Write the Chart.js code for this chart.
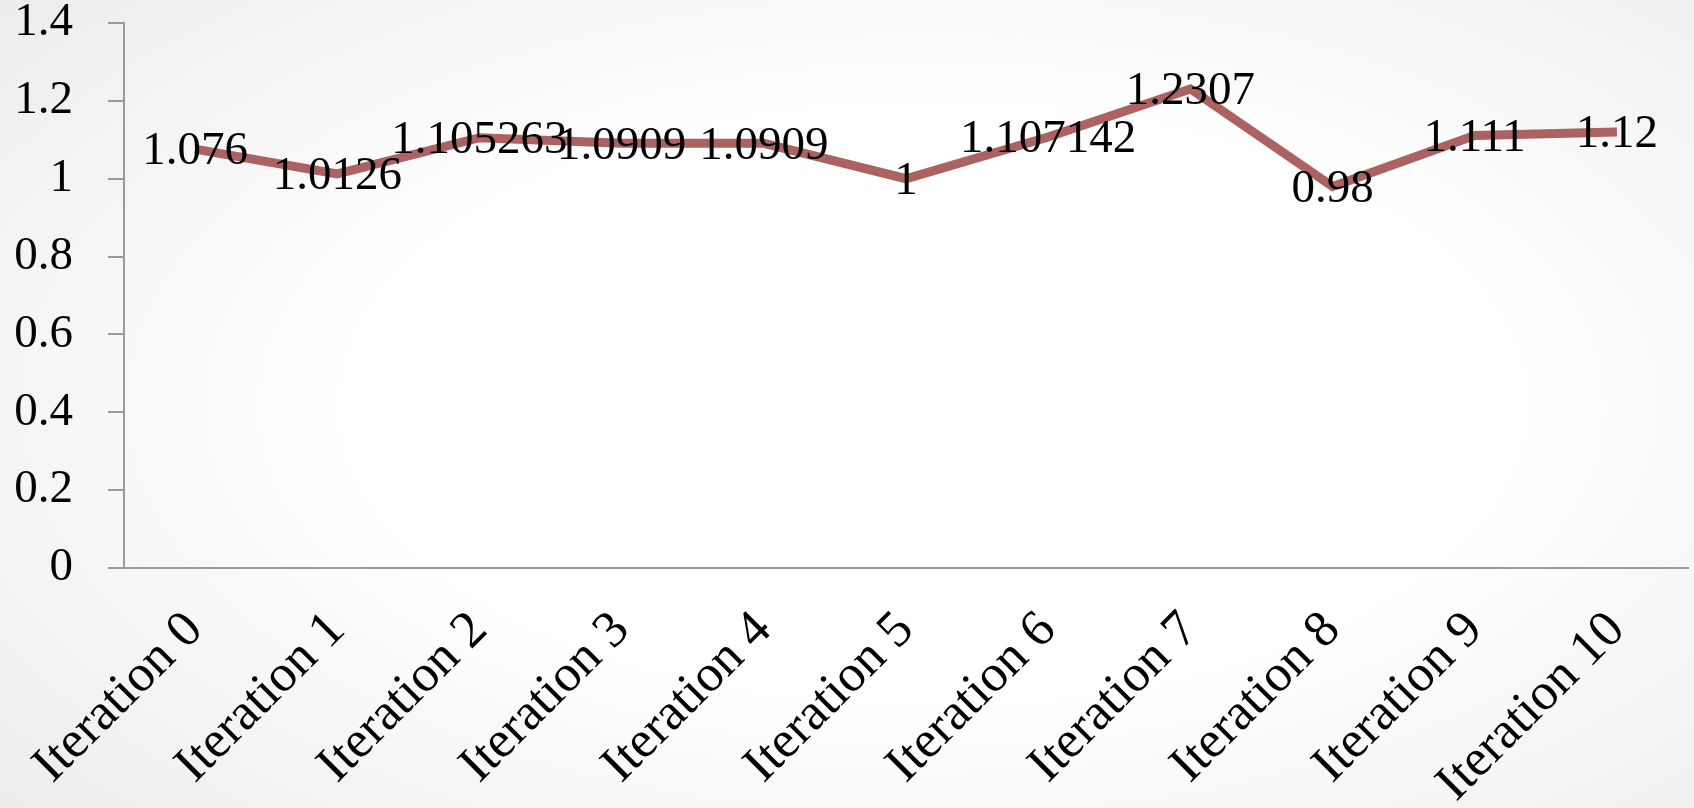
<!DOCTYPE html>
<html lang="en">
<head>
  <meta charset="UTF-8">
  <title>Iteration chart</title>
  <style>
    html, body {
      margin: 0;
      padding: 0;
      width: 1694px;
      height: 808px;
      overflow: hidden;
    }
    body {
      background: radial-gradient(ellipse 75% 80% at 55% 50%, #ffffff 45%, #ebebeb 100%);
    }
    .chart-wrap {
      position: relative;
      width: 1694px;
      height: 808px;
    }
  </style>
</head>
<body>
  <div class="chart-wrap">
    <canvas id="lineChart"></canvas>
  </div>

  <script src="https://cdn.jsdelivr.net/npm/chart.js@4.4.1/dist/chart.umd.min.js"></script>
  <script>
    const categories = ['Iteration 0', 'Iteration 1', 'Iteration 2', 'Iteration 3', 'Iteration 4',
      'Iteration 5', 'Iteration 6', 'Iteration 7', 'Iteration 8', 'Iteration 9', 'Iteration 10'];
    const values = [1.076, 1.0126, 1.105263, 1.0909, 1.0909, 1, 1.107142, 1.2307, 0.98, 1.111, 1.12];
    const yTicks = [0, 0.2, 0.4, 0.6, 0.8, 1, 1.2, 1.4];

    const FONT = '"Liberation Serif", "Times New Roman", serif';

    // draws the value on each point, centred like Excel's "center" labels
    const valueLabels = {
      id: 'valueLabels',
      afterDatasetsDraw(chart) {
        const ctx = chart.ctx;
        const meta = chart.getDatasetMeta(0);
        ctx.save();
        ctx.font = '47px ' + FONT;
        ctx.fillStyle = '#000';
        ctx.textAlign = 'center';
        ctx.textBaseline = 'middle';
        meta.data.forEach((pt, i) => {
          ctx.fillText(String(values[i]), pt.x, pt.y + 3);
        });
        ctx.restore();
      }
    };

    new Chart(document.getElementById('lineChart'), {
      type: 'line',
      data: {
        labels: categories,
        datasets: [{
          data: values,
          borderColor: '#ab6261',
          borderWidth: 9,
          pointRadius: 0,
          tension: 0,
          fill: false
        }]
      },
      options: {
        responsive: true,
        maintainAspectRatio: false,
        animation: false,
        layout: {
          padding: { top: 23, right: 6, left: 0, bottom: 0 }
        },
        plugins: {
          legend: { display: false },
          tooltip: { enabled: false }
        },
        scales: {
          x: {
            offset: true,
            grid: { display: false, offset: true },
            border: { display: true, color: '#9a9a9a', width: 2 },
            ticks: {
              autoSkip: false,
              maxRotation: 45,
              minRotation: 45,
              padding: 24,
              color: '#000',
              font: { family: FONT, size: 52 }
            },
            afterFit(scale) {
              scale.height = 240;
              scale.paddingLeft = 0;
              scale.paddingRight = 0;
            }
          },
          y: {
            min: 0,
            max: 1.4,
            afterBuildTicks(scale) {
              scale.ticks = yTicks.map(v => ({ value: v }));
            },
            grid: {
              drawOnChartArea: false,
              drawTicks: true,
              tickLength: 16,
              color: '#9a9a9a',
              lineWidth: 2
            },
            border: { display: true, color: '#9a9a9a', width: 2 },
            ticks: {
              padding: 35,
              color: '#000',
              font: { family: FONT, size: 47 },
              callback: v => String(Math.round(v * 10) / 10)
            },
            afterFit(scale) {
              scale.width = 124;
              scale.paddingTop = 0;
              scale.paddingBottom = 0;
            }
          }
        }
      },
      plugins: [valueLabels]
    });
  </script>
</body>
</html>
